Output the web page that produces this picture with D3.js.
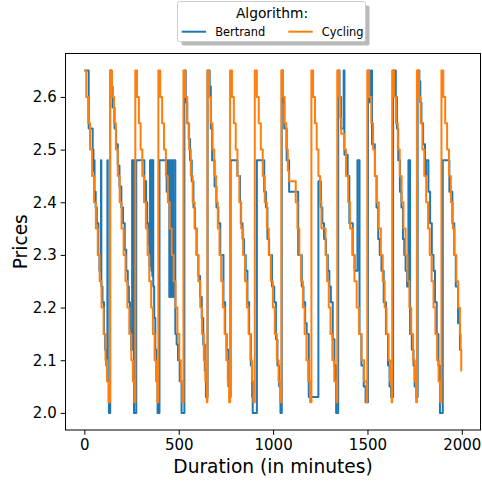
<!DOCTYPE html>
<html>
<head>
<meta charset="utf-8">
<script src="https://cdn.jsdelivr.net/npm/d3@7"></script>
<style>
  body { margin: 0; background: #ffffff; }
  svg { font-family: "DejaVu Sans", sans-serif; display: block; }
</style>
</head>
<body>
<div id="chart"></div>
<script>
// data: [minute, price] at each change of price
var seriesNames = ['Bertrand', 'Cycling'];
var seriesColors = ['#1f77b4', '#ff7f0e'];
var xTicks = [0, 500, 1000, 1500, 2000];
var yTicks = [2.0, 2.1, 2.2, 2.3, 2.4, 2.5, 2.6];

var bertrand = [
  [0,2.65],[23,2.54],[44,2.50],[48,2.46],[52,2.48],[54,2.42],[60,2.39],[66,2.36],[74,2.30],[80,2.27],[88,2.48],[90,2.24],[96,2.21],[104,2.15],[110,2.12],[116,2.09],[122,2.48],[124,2.06],[130,2.0],
  [137,2.65],[143,2.62],[150,2.58],[160,2.54],[168,2.51],[177,2.47],[186,2.43],[196,2.39],[205,2.36],[214,2.31],[222,2.27],[230,2.24],[236,2.21],[242,2.16],[248,2.12],[253,2.48],[263,2.0],[275,2.48],
  [318,2.44],[327,2.40],[333,2.36],[339,2.32],[345,2.28],[348,2.48],[350,2.28],[353,2.48],[355,2.27],[358,2.48],[360,2.26],[363,2.48],[365,2.24],[370,2.18],[376,2.12],[382,2.06],[388,2.0],[398,2.48],
  [436,2.42],[440,2.48],[450,2.22],[455,2.48],[465,2.22],[471,2.48],[482,2.15],[489,2.13],[496,2.10],[505,2.06],[515,2.0],
  [530,2.65],[537,2.59],[545,2.55],[553,2.52],[560,2.48],[569,2.44],[578,2.39],[586,2.35],[595,2.30],[604,2.26],[613,2.22],[622,2.18],[630,2.13],[638,2.08],[644,2.03],
  [653,2.65],[664,2.62],[670,2.54],[677,2.48],[690,2.43],[700,2.39],[710,2.36],[720,2.30],[737,2.21],[746,2.15],[754,2.12],[763,2.05],[770,2.03],[775,2.48],
  [811,2.45],[825,2.40],[829,2.36],[838,2.33],[846,2.30],[855,2.27],[864,2.21],[873,2.15],[882,2.09],[889,2.03],[892,2.0],[914,2.48],
  [953,2.42],[962,2.39],[970,2.33],[979,2.30],[994,2.24],[1006,2.21],[1015,2.14],[1023,2.09],[1032,2.05],[1039,2.0],
  [1046,2.65],[1052,2.59],[1059,2.54],[1072,2.48],[1085,2.42],[1133,2.30],[1152,2.24],[1161,2.21],[1170,2.17],[1178,2.15],[1189,2.03],
  [1240,2.44],[1253,2.39],[1261,2.36],[1270,2.33],[1280,2.30],[1290,2.27],[1298,2.24],[1306,2.21],[1316,2.14],[1325,2.09],[1334,2.0],
  [1345,2.65],[1352,2.60],[1360,2.54],[1374,2.65],[1378,2.49],[1395,2.45],[1404,2.36],[1422,2.30],[1432,2.27],[1447,2.48],[1458,2.15],[1468,2.09],[1480,2.05],[1490,2.02],
  [1503,2.65],[1510,2.59],[1519,2.65],[1524,2.51],[1539,2.45],[1548,2.39],[1557,2.33],[1565,2.30],[1574,2.27],[1586,2.21],[1598,2.15],[1609,2.09],[1617,2.05],[1625,2.03],
  [1636,2.65],[1650,2.60],[1656,2.54],[1663,2.48],[1672,2.42],[1680,2.39],[1688,2.33],[1695,2.30],[1702,2.27],[1710,2.24],[1717,2.48],[1726,2.15],[1735,2.12],[1744,2.09],[1750,2.05],[1758,2.03],
  [1766,2.65],[1775,2.63],[1780,2.59],[1786,2.55],[1795,2.51],[1805,2.45],[1811,2.48],[1823,2.42],[1832,2.36],[1841,2.30],[1850,2.27],[1858,2.21],[1867,2.15],[1876,2.09],[1884,2.0],[1899,2.48],
  [1934,2.42],[1950,2.36],[1960,2.30],[1968,2.24],[1980,2.17],[1990,2.12],[1999,2.12]
];

var cycling = [
  [0,2.65],[10,2.60],[20,2.55],[30,2.50],[41,2.45],[51,2.40],[61,2.35],[71,2.30],[81,2.25],[91,2.20],[102,2.15],[112,2.10],[120,2.06],[128,2.02],
  [136,2.65],[146,2.60],[157,2.55],[167,2.50],[177,2.45],[187,2.40],[197,2.35],[208,2.30],[218,2.25],[228,2.20],[238,2.15],[249,2.10],[257,2.06],[265,2.02],
  [270,2.65],[279,2.60],[289,2.55],[298,2.50],[307,2.45],[316,2.40],[326,2.35],[335,2.30],[344,2.25],[354,2.20],[363,2.15],[372,2.10],[380,2.06],[387,2.02],
  [392,2.65],[402,2.60],[412,2.55],[422,2.50],[432,2.45],[442,2.40],[452,2.35],[463,2.30],[473,2.25],[483,2.20],[493,2.15],[503,2.10],[511,2.06],[519,2.02],
  [525,2.65],[535,2.60],[545,2.55],[555,2.50],[564,2.45],[574,2.40],[584,2.35],[594,2.30],[604,2.25],[614,2.20],[623,2.15],[633,2.10],[641,2.06],[649,2.02],
  [652,2.65],[661,2.60],[670,2.55],[679,2.50],[688,2.45],[698,2.40],[707,2.35],[716,2.30],[725,2.25],[734,2.20],[743,2.15],[752,2.10],[760,2.06],[767,2.02],
  [772,2.65],[782,2.60],[792,2.55],[802,2.50],[811,2.45],[821,2.40],[831,2.35],[841,2.30],[851,2.25],[861,2.20],[870,2.15],[880,2.10],[888,2.06],[896,2.02],
  [903,2.65],[914,2.60],[924,2.55],[935,2.50],[945,2.45],[956,2.40],[967,2.35],[977,2.30],[988,2.25],[999,2.20],[1009,2.15],[1020,2.10],[1029,2.06],[1037,2.02],
  [1044,2.65],[1052,2.60],[1061,2.55],[1070,2.50],[1078,2.46],[1085,2.44],[1120,2.40],[1129,2.35],[1139,2.30],[1148,2.25],[1158,2.20],[1167,2.15],[1177,2.10],[1186,2.06],[1196,2.02],
  [1203,2.65],[1212,2.60],[1222,2.55],[1231,2.50],[1240,2.45],[1249,2.40],[1256,2.35],[1278,2.30],[1286,2.25],[1295,2.20],[1304,2.15],[1314,2.10],[1324,2.06],[1336,2.02],
  [1340,2.65],[1350,2.60],[1356,2.56],[1361,2.53],[1376,2.50],[1386,2.45],[1398,2.40],[1408,2.35],[1420,2.30],[1431,2.25],[1443,2.20],[1455,2.15],[1468,2.10],[1482,2.06],[1495,2.02],
  [1499,2.65],[1509,2.60],[1520,2.55],[1530,2.50],[1540,2.45],[1550,2.40],[1560,2.35],[1571,2.30],[1581,2.25],[1591,2.20],[1601,2.15],[1612,2.10],[1620,2.06],[1628,2.02],
  [1631,2.65],[1641,2.60],[1651,2.55],[1661,2.50],[1671,2.45],[1681,2.40],[1691,2.35],[1702,2.30],[1712,2.25],[1722,2.20],[1732,2.15],[1742,2.10],[1750,2.06],[1758,2.02],
  [1762,2.65],[1772,2.60],[1782,2.55],[1791,2.50],[1801,2.45],[1811,2.40],[1821,2.35],[1830,2.30],[1840,2.25],[1850,2.20],[1860,2.15],[1869,2.10],[1877,2.06],[1885,2.02],
  [1892,2.65],[1902,2.60],[1912,2.55],[1922,2.50],[1932,2.45],[1942,2.40],[1952,2.35],[1961,2.30],[1971,2.25],[1981,2.20],[1990,2.15],[1994,2.12],[1997,2.08],[1999,2.08]
];

// setup
var width = 482, height = 483;
var plotLeft = 65.5, plotRight = 480.5, plotTop = 53.5, plotBottom = 430;

var svg = d3.select('#chart').append('svg')
    .attr('width', width).attr('height', height);

// matplotlib style 5% margins
var x = d3.scaleLinear().domain([-99.95, 2098.95]).range([plotLeft, plotRight]);
var y = d3.scaleLinear().domain([1.9675, 2.6825]).range([plotBottom, plotTop]);

// lines, blue under orange
var line = d3.line()
    .x(function(d) { return x(d[0]); })
    .y(function(d) { return y(d[1]); })
    .curve(d3.curveStepAfter);

svg.append('defs').append('clipPath').attr('id', 'plotclip')
    .append('rect').attr('x', plotLeft).attr('y', plotTop)
    .attr('width', plotRight - plotLeft).attr('height', plotBottom - plotTop);

var plot = svg.append('g').attr('clip-path', 'url(#plotclip)');
[bertrand, cycling].forEach(function(series, i) {
    plot.append('path')
        .datum(series)
        .attr('fill', 'none')
        .attr('stroke', seriesColors[i])
        .attr('stroke-width', 2)
        .attr('stroke-linejoin', 'round')
        .attr('d', line);
});

// axes
var xAxis = svg.append('g')
    .attr('transform', 'translate(0,' + plotBottom + ')')
    .call(d3.axisBottom(x).tickValues(xTicks).tickSize(4.8).tickPadding(5)
        .tickFormat(d3.format('d')));
var yAxis = svg.append('g')
    .attr('transform', 'translate(' + plotLeft + ',0)')
    .call(d3.axisLeft(y).tickValues(yTicks).tickSize(4.8).tickPadding(4)
        .tickFormat(d3.format('.1f')));

[xAxis, yAxis].forEach(function(ax) {
    ax.select('.domain').remove();
    ax.selectAll('line').attr('stroke', '#000').attr('stroke-width', 1);
    ax.selectAll('text').attr('fill', '#000')
        .style('font-size', '15px')
        .style('font-family', '"DejaVu Sans", sans-serif');
});
xAxis.selectAll('text').attr('dy', '0.71em');

// frame
svg.append('rect')
    .attr('x', plotLeft).attr('y', plotTop)
    .attr('width', plotRight - plotLeft).attr('height', plotBottom - plotTop)
    .attr('fill', 'none').attr('stroke', '#000').attr('stroke-width', 1);

// axis labels
svg.append('text')
    .attr('x', (plotLeft + plotRight) / 2).attr('y', 472.5)
    .attr('text-anchor', 'middle')
    .style('font-size', '18.6px')
    .text('Duration (in minutes)');

svg.append('text')
    .attr('transform', 'translate(27,' + (plotTop + plotBottom) / 2 + ') rotate(-90)')
    .attr('text-anchor', 'middle')
    .style('font-size', '18.6px')
    .text('Prices');

// legend with shadow
var lg = svg.append('g');
lg.append('rect')
    .attr('x', 181.5).attr('y', 5.5).attr('width', 188).attr('height', 40)
    .attr('rx', 2).attr('fill', '#7f7f7f').attr('opacity', 0.55);
lg.append('rect')
    .attr('x', 177.5).attr('y', 1.5).attr('width', 188).attr('height', 40)
    .attr('rx', 2).attr('fill', '#fff').attr('stroke', '#cccccc').attr('stroke-width', 1);
lg.append('text')
    .attr('x', 272).attr('y', 18.3)
    .attr('text-anchor', 'middle')
    .style('font-size', '13.8px')
    .text('Algorithm:');

var keyX = [181.7, 288.3];
seriesNames.forEach(function(name, i) {
    lg.append('line')
        .attr('x1', keyX[i]).attr('x2', keyX[i] + 24.4)
        .attr('y1', 31.7).attr('y2', 31.7)
        .attr('stroke', seriesColors[i]).attr('stroke-width', 2);
    lg.append('text')
        .attr('x', keyX[i] + 33.5).attr('y', 35.8)
        .style('font-size', '11.4px')
        .text(name);
});
</script>
</body>
</html>
